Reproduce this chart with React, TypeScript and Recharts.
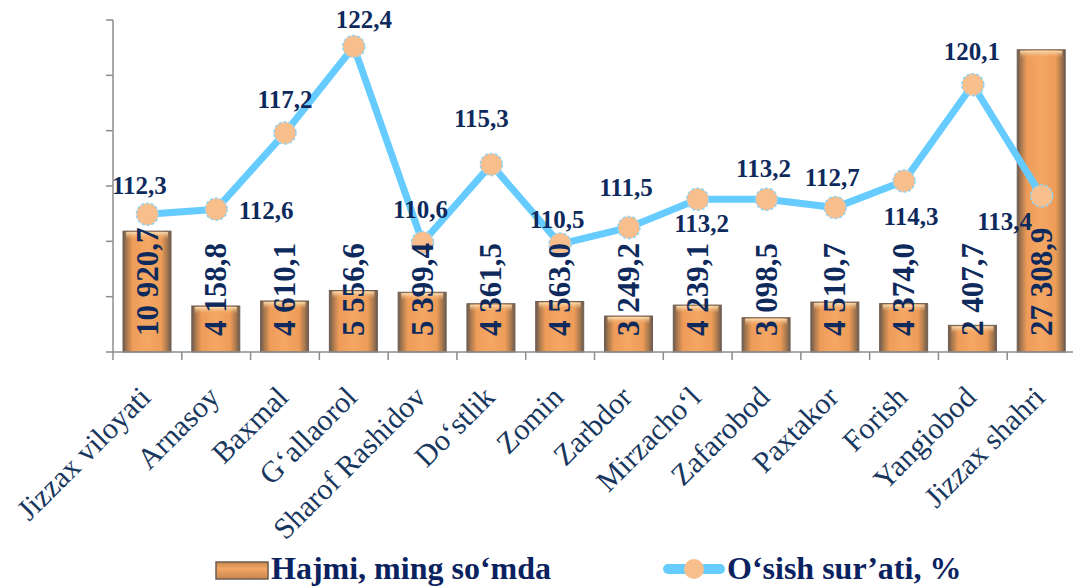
import React from 'react';
import { ComposedChart, Bar, Line, XAxis, YAxis, LabelList } from 'recharts';

const categories = [
  'Jizzax viloyati', 'Arnasoy', 'Baxmal', 'G‘allaorol', 'Sharof Rashidov', 'Do‘stlik', 'Zomin',
  'Zarbdor', 'Mirzacho‘l', 'Zafarobod', 'Paxtakor', 'Forish', 'Yangiobod', 'Jizzax shahri',
];
const volumes = [10920.7, 4158.8, 4610.1, 5556.6, 5399.4, 4361.5, 4563.0, 3249.2, 4239.1, 3098.5, 4510.7, 4374.0, 2407.7, 27308.9];
const growth = [112.3, 112.6, 117.2, 122.4, 110.6, 115.3, 110.5, 111.5, 113.2, 113.2, 112.7, 114.3, 120.1, 113.4];
const leftTicks = [0, 5000, 10000, 15000, 20000, 25000, 30000];
const seriesNames = ['Hajmi, ming so‘mda', 'O‘sish sur’ati, %'];

// label placement (dx, dy) relative to each line point
const lineLabelOffsets: [number, number][] = [
  [-8, -29], [50, 1], [0, -33], [10, -27], [-2, -33], [-10, -46], [-3, -25],
  [-3, -40], [4, 24], [-3, -31], [-3, -30], [7, 35], [-1, -33], [-37, 26],
];

const data = categories.map((name, i) => ({ name, volume: volumes[i], growth: growth[i] }));

const W = 1080;
const H = 587;
const margin = { top: 20, right: 4, left: 103, bottom: 35 };
const Y_AXIS_W = 10;
const plotW = W - margin.left - margin.right - Y_AXIS_W;
const step = plotW / categories.length;

const SERIF = '"Liberation Serif", "Times New Roman", serif';
const NAVY = '#0E2A5C';
const TICK_NAVY = '#17375E';
const AXIS = '#8C8C8C';

const fmtVolume = (v: number) => {
  const [i, d] = v.toFixed(1).split('.');
  return i.replace(/\B(?=(\d{3})+(?!\d))/g, ' ') + ',' + d;
};
const fmtGrowth = (v: number) => v.toFixed(1).replace('.', ',');

const BarShape = (props: any) => {
  const { x, y, width, height } = props;
  if (!height || height <= 0) return <g />;
  return (
    <g>
      <rect x={x} y={y} width={width} height={height} fill="url(#barGrad)" stroke="#6E5E52" strokeWidth={1} />
      <rect x={x + 3} y={y + 1} width={width - 6} height={Math.min(7, height - 1)} fill="url(#barTop)" />
    </g>
  );
};

const XTick = (props: any) => {
  const { x, y, payload } = props;
  const bx = x - step / 2;
  const tx = x + 5;
  const ty = y + 47;
  return (
    <g>
      <line x1={bx} x2={bx} y1={y} y2={y + 8} stroke={AXIS} strokeWidth={1.5} />
      <text
        x={tx}
        y={ty}
        transform={`rotate(-45, ${tx}, ${ty})`}
        textAnchor="end"
        fontFamily={SERIF}
        fontSize={30}
        fill={TICK_NAVY}
      >
        {payload.value}
      </text>
    </g>
  );
};

const BarLabel = (props: any) => {
  const { x, y, width, height, value } = props;
  const cx = x + width / 2;
  const by = y + height - 16;
  return (
    <text
      x={cx}
      y={by}
      transform={`rotate(-90, ${cx}, ${by})`}
      textAnchor="start"
      dominantBaseline="central"
      fontFamily={SERIF}
      fontWeight="bold"
      fontSize={31}
      fill={NAVY}
    >
      {fmtVolume(Number(value))}
    </text>
  );
};

const LineLabel = (props: any) => {
  const { x, y, value, index } = props;
  const [dx, dy] = lineLabelOffsets[index] || [0, -30];
  return (
    <text
      x={x + dx}
      y={y + dy}
      textAnchor="middle"
      dominantBaseline="central"
      fontFamily={SERIF}
      fontWeight="bold"
      fontSize={25}
      fill={NAVY}
    >
      {fmtGrowth(Number(value))}
    </text>
  );
};

const Dot = (props: any) => {
  const { cx, cy, index } = props;
  return (
    <circle
      key={`dot-${index}`}
      cx={cx}
      cy={cy}
      r={11}
      fill="#F8BE8B"
      stroke="#8FD3F5"
      strokeWidth={1.5}
      strokeDasharray="3 2"
    />
  );
};

export default function App() {
  return (
    <div style={{ position: 'absolute', left: 0, top: 0, width: 1073, height: 587, overflow: 'hidden', background: '#fff' }}>
      <ComposedChart width={W} height={H} data={data} margin={margin}>
        <defs>
          <linearGradient id="barGrad" x1="0" y1="0" x2="1" y2="0">
            <stop offset="0%" stopColor="#6A5A50" />
            <stop offset="8%" stopColor="#A8784E" />
            <stop offset="20%" stopColor="#EE9C58" />
            <stop offset="50%" stopColor="#F4A764" />
            <stop offset="80%" stopColor="#EE9C58" />
            <stop offset="92%" stopColor="#A8784E" />
            <stop offset="100%" stopColor="#6A5A50" />
          </linearGradient>
          <linearGradient id="barTop" x1="0" y1="0" x2="0" y2="1">
            <stop offset="0%" stopColor="#F9E4BC" stopOpacity={0.95} />
            <stop offset="100%" stopColor="#F4A764" stopOpacity={0} />
          </linearGradient>
        </defs>
        <XAxis
          dataKey="name"
          interval={0}
          height={200}
          tickLine={false}
          tickSize={0}
          tickMargin={0}
          axisLine={{ stroke: AXIS, strokeWidth: 1.5 }}
          tick={<XTick />}
        />
        <YAxis
          yAxisId="left"
          width={Y_AXIS_W}
          domain={[0, 30000]}
          ticks={leftTicks}
          tickSize={7}
          tickLine={{ stroke: AXIS, strokeWidth: 1.5 }}
          axisLine={{ stroke: AXIS, strokeWidth: 1.5 }}
          tick={() => <g />}
        />
        <YAxis yAxisId="right" orientation="right" hide domain={[104, 124]} />
        <Bar yAxisId="left" dataKey="volume" barSize={48} shape={<BarShape />} isAnimationActive={false}>
          <LabelList dataKey="volume" content={<BarLabel />} />
        </Bar>
        <Line
          yAxisId="right"
          dataKey="growth"
          stroke="#66CCFF"
          strokeWidth={7}
          dot={<Dot />}
          activeDot={false}
          isAnimationActive={false}
        >
          <LabelList dataKey="growth" content={<LineLabel />} />
        </Line>
      </ComposedChart>
      <svg width={1073} height={587} style={{ position: 'absolute', left: 0, top: 0, pointerEvents: 'none' }}>
        <defs>
          <linearGradient id="legGrad" x1="0" y1="0" x2="0" y2="1">
            <stop offset="0%" stopColor="#C8864E" />
            <stop offset="40%" stopColor="#F4A764" />
            <stop offset="100%" stopColor="#C8864E" />
          </linearGradient>
        </defs>
        <rect x={216} y={562} width={52} height={17} fill="url(#legGrad)" stroke="#6E5E52" strokeWidth={1.5} />
        <text x={271} y={579} fontFamily={SERIF} fontWeight="bold" fontSize={32} fill="#0B2260">
          {seriesNames[0]}
        </text>
        <line x1={668} x2={720} y1={569} y2={569} stroke="#66CCFF" strokeWidth={10} strokeLinecap="round" />
        <circle cx={694} cy={569} r={10} fill="#F8BE8B" />
        <text x={727} y={579} fontFamily={SERIF} fontWeight="bold" fontSize={32} fill="#0B2260">
          {seriesNames[1]}
        </text>
      </svg>
    </div>
  );
}
